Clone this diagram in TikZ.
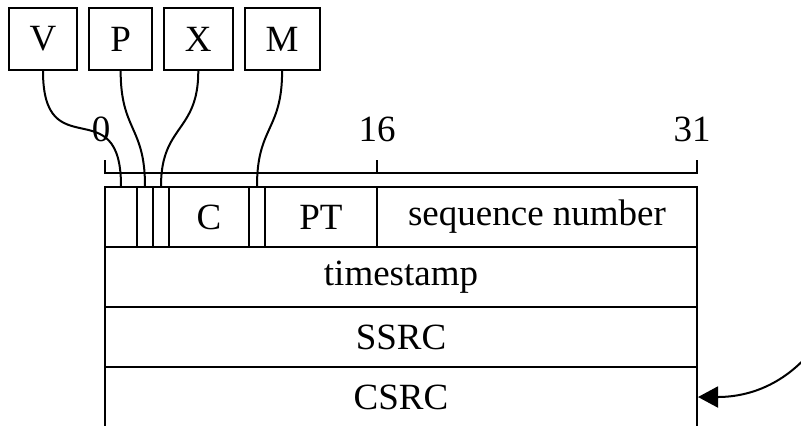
\documentclass[tikz,border=0pt]{standalone}
\usepackage{fontspec}
\setmainfont{Liberation Serif}
\usetikzlibrary{positioning,arrows.meta}

\begin{document}
\begin{tikzpicture}[x=0.5pt, y=-0.5pt, line width=1pt,
    font=\fontsize{18.5}{22}\selectfont,
    flag/.style={draw, minimum height=31pt, inner xsep=10.5pt, inner ysep=0pt},
    field/.style={draw, minimum height=30pt, inner sep=0pt},
    wire/.style={out=-90, in=90}]

    \useasboundingbox (0,0) rectangle (801,425);
    \clip (0,0) rectangle (801,425);

    % flag boxes
    \node[flag] (V) at (43,39) {V};
    \node[flag, right=5pt of V] (P) {P};
    \node[flag, right=5pt of P] (X) {X};
    \node[flag, right=5pt of X] (M) {M};

    % bit ruler
    \draw (105,160) -- (105,173) -- (697,173) -- (697,160);
    \draw (377,173) -- (377,160);
    \node[anchor=base] (bit0) at (101,141) {0};
    \node[anchor=base] (bit16) at (377,141) {16};
    \node[anchor=base] (bit31) at (692,141) {31};

    % header fields
    \node[field, minimum width=16pt] (fV) at (121,217) {};
    \node[field, minimum width=8pt] (fP) at (145,217) {};
    \node[field, minimum width=8pt] (fX) at (161,217) {};
    \node[field, minimum width=40pt] (fC) at (209,217) {C};
    \node[field, minimum width=8pt] (fM) at (257,217) {};
    \node[field, minimum width=56pt] (fPT) at (321,217) {PT};
    \node[field, minimum width=160pt] (fseq) at (537,217) {sequence number};

    % words below
    \node[field, minimum width=296pt] (ts) at (401,277) {timestamp};
    \node[field, minimum width=296pt] (ssrc) at (401,337) {SSRC};
    \node[field, minimum width=296pt] (csrc) at (401,397) {CSRC};

    % flags to their bits
    \draw (V.south) to[wire, looseness=1.8] (fV.north);
    \draw (P.south) to[wire, looseness=1.3] (fP.north);
    \draw (X.south) to[wire, looseness=1.3] (fX.north);
    \draw (M.south) to[wire, looseness=1.3] (fM.north);

    \coordinate (src) at (820,340);
    \draw[-{Triangle[length=10pt, width=10.5pt]}] (src) to[out=-125, in=0] (csrc.east);

\end{tikzpicture}
\end{document}
